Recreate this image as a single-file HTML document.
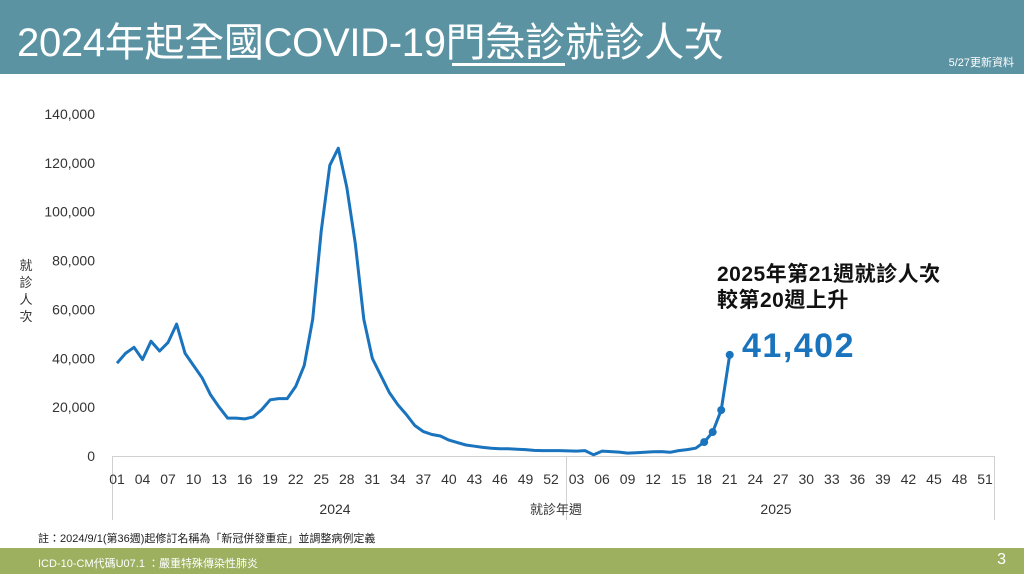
<!DOCTYPE html>
<html><head><meta charset="utf-8"><style>
body{margin:0;width:1024px;height:574px;overflow:hidden;background:#fff;font-family:"Liberation Sans","Noto Sans CJK TC",sans-serif;position:relative}
.hdr{position:absolute;left:0;top:0;width:1024px;height:74px;background:#5b93a3}
.ttl{position:absolute;left:17px;top:10px;color:#fff;font-size:40px;white-space:nowrap;letter-spacing:-0.3px}
.ul{position:absolute;left:452px;top:63px;width:113px;height:3px;background:#fff}
.upd{position:absolute;right:10px;top:54px;color:#fff;font-size:11px}
.ftr{position:absolute;left:0;top:548px;width:1024px;height:26px;background:#9cb060}
.ftr span{position:absolute;color:#fff;font-size:11px;top:7px}
.note{position:absolute;left:38px;top:530px;font-size:11px;color:#222}
</style></head><body>
<div class="hdr"><div class="ttl">2024年起全國COVID-19門急診就診人次</div><div class="ul"></div><div class="upd">5/27更新資料</div></div>
<svg id="s" width="1024" height="574" style="position:absolute;left:0;top:0">
<g font-size="14" fill="#333" text-anchor="end" id="yl"></g>
<line x1="112" y1="456.5" x2="995" y2="456.5" stroke="#d0d0d0"/>
<line x1="566.5" y1="456" x2="566.5" y2="520" stroke="#d0d0d0"/>
<line x1="112.5" y1="456" x2="112.5" y2="520" stroke="#d0d0d0"/>
<line x1="994.5" y1="456" x2="994.5" y2="520" stroke="#d0d0d0"/>
<g font-size="14" fill="#333" text-anchor="middle" id="xl"></g>
<text x="335" y="514" font-size="14" fill="#333" text-anchor="middle">2024</text>
<text x="556" y="514" font-size="13" fill="#333" text-anchor="middle">就診年週</text>
<text x="776" y="514" font-size="14" fill="#333" text-anchor="middle">2025</text>
<g font-size="13" fill="#333" text-anchor="middle"><text x="26" y="270">就</text><text x="26" y="287">診</text><text x="26" y="304">人</text><text x="26" y="321">次</text></g>
<polyline id="pl" fill="none" stroke="#1a73bd" stroke-width="3" stroke-linejoin="round"/>
<g id="mk" fill="#1a73bd"></g>
<text x="717" y="281" font-size="21" font-weight="bold" fill="#111" letter-spacing="0.5">2025年第21週就診人次</text>
<text x="717" y="307" font-size="21" font-weight="bold" fill="#111" letter-spacing="0.5">較第20週上升</text>
<text x="742" y="357" font-size="34" font-weight="bold" fill="#1a73bd" letter-spacing="1.5">41,402</text>
</svg>
<div class="note">註：2024/9/1(第36週)起修訂名稱為「新冠併發重症」並調整病例定義</div>
<div class="ftr"><span style="left:38px">ICD-10-CM代碼U07.1 ：嚴重特殊傳染性肺炎</span><span style="right:18px;font-size:16px;top:3px">3</span></div>
<script>
var d=[38000,42000,44500,39500,47000,43000,46500,54000,42000,37000,32000,25000,20000,15500,15500,15200,16000,19000,23000,23500,23500,28500,37000,56000,92000,119000,126000,110000,87000,56000,40000,33000,26000,21000,17000,12500,10000,8800,8200,6500,5500,4500,4000,3500,3200,3000,3000,2800,2600,2300,2200,2200,
2200,2100,2000,2200,500,2000,1800,1600,1200,1300,1500,1700,1800,1500,2200,2600,3200,5700,9800,18800,41402];
var X=i=>117+i*8.51,Y=v=>456-v/20000*48.86,ns="http://www.w3.org/2000/svg";
document.getElementById('pl').setAttribute('points',d.map((v,i)=>X(i).toFixed(1)+','+Y(v).toFixed(1)).join(' '));
var mk=document.getElementById('mk');
for(var i=69;i<73;i++){var c=document.createElementNS(ns,'circle');c.setAttribute('cx',X(i));c.setAttribute('cy',Y(d[i]));c.setAttribute('r',4);mk.appendChild(c);}
var yl=document.getElementById('yl');
for(var k=0;k<=7;k++){var t=document.createElementNS(ns,'text');t.setAttribute('x',95);t.setAttribute('y',Y(k*20000)+5);t.textContent=k?(k*20)+',000':'0';yl.appendChild(t);}
var xl=document.getElementById('xl');
for(var i=0;i<=102;i+=3){var w=i<52?i+1:i-51;var t=document.createElementNS(ns,'text');t.setAttribute('x',X(i));t.setAttribute('y',484);t.textContent=(w<10?'0':'')+w;xl.appendChild(t);}
</script>
</body></html>
